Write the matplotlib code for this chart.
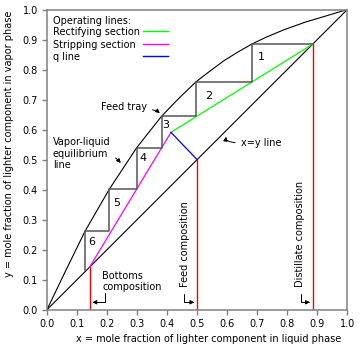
import matplotlib
matplotlib.use("Agg")
import matplotlib.pyplot as plt

# vapor-liquid equilibrium curve
eq_x = [0.0, 0.06, 0.127, 0.208, 0.299, 0.382, 0.44, 0.496, 0.54, 0.59, 0.635, 0.682,
        0.73, 0.79, 0.86, 0.93, 1.0]
eq_y = [0.0, 0.125, 0.262, 0.402, 0.54, 0.645, 0.705, 0.759, 0.793, 0.83, 0.858, 0.885,
        0.908, 0.933, 0.958, 0.979, 1.0]

# compositions
x_bottoms = 0.142
x_feed = 0.5
x_dist = 0.885

# where the operating lines and q line meet
x_meet = 0.413
y_meet = 0.591

# McCabe-Thiele stairs
stair_x = [0.885, 0.682, 0.682, 0.496, 0.496, 0.382, 0.382, 0.299, 0.299, 0.208, 0.208, 0.127, 0.127]
stair_y = [0.885, 0.885, 0.759, 0.759, 0.645, 0.645, 0.54, 0.54, 0.402, 0.402, 0.262, 0.262, 0.133]

# tray numbers and where they sit
tray_labels = ["1", "2", "3", "4", "5", "6"]
tray_x = [0.713, 0.537, 0.397, 0.32, 0.233, 0.15]
tray_y = [0.842, 0.711, 0.616, 0.505, 0.355, 0.225]

legend_title = "Operating lines:"
legend_labels = ["Rectifying section", "Stripping section", "q line"]
legend_colors = ["#00ff00", "#ff00ff", "#0000ff"]

ticks = [0.0, 0.1, 0.2, 0.3, 0.4, 0.5, 0.6, 0.7, 0.8, 0.9, 1.0]

fig = plt.figure(figsize=(3.61, 3.54), dpi=100)
ax = fig.add_axes([0.130, 0.125, 0.832, 0.848])

fs = 7
spine_col = "#808080"

# diagonal and equilibrium curve
ax.plot([0, 1], [0, 1], color="black", lw=0.8)
ax.plot(eq_x, eq_y, color="black", lw=0.8)

# red composition lines
for xc in [x_bottoms, x_feed, x_dist]:
    ax.plot([xc, xc], [0, xc], color="red", lw=1.0)

# operating lines
ax.plot([x_dist, x_meet], [x_dist, y_meet], color=legend_colors[0], lw=0.9)
ax.plot([x_bottoms, x_meet], [x_bottoms, y_meet], color=legend_colors[1], lw=0.9)
ax.plot([x_feed, x_meet], [x_feed, y_meet], color=legend_colors[2], lw=0.9)

# stairs
ax.plot(stair_x, stair_y, color="#555555", lw=1.1)

for lab, tx, ty in zip(tray_labels, tray_x, tray_y):
    ax.text(tx, ty, lab, fontsize=8, ha="center", va="center")

arrow = dict(arrowstyle="-|>", color="black", lw=0.7, mutation_scale=6)

ax.annotate("Feed tray", xy=(0.382, 0.648), xytext=(0.18, 0.675),
            fontsize=fs, ha="left", va="center",
            arrowprops=dict(arrow, connectionstyle="angle3,angleA=0,angleB=-60"))
ax.annotate("Vapor-liquid\nequilibrium\nline", xy=(0.252, 0.482), xytext=(0.02, 0.52),
            fontsize=fs, ha="left", va="center", linespacing=1.15,
            arrowprops=dict(arrow, connectionstyle="angle3,angleA=0,angleB=-50",
                            relpos=(0.92, 0.5)))
ax.annotate("x=y line", xy=(0.6, 0.585), xytext=(0.645, 0.556),
            fontsize=fs, ha="left", va="center",
            arrowprops=dict(arrow, connectionstyle="angle3,angleA=0,angleB=60",
                            relpos=(0.0, 0.5)))

# bracket arrows to the compositions
ax.text(0.185, 0.13, "Bottoms\ncomposition", fontsize=fs, ha="left", va="top", linespacing=1.15)
ax.annotate("", xy=(x_bottoms, 0.025), xytext=(0.193, 0.065),
            arrowprops=dict(arrow, connectionstyle="angle,angleA=-90,angleB=0,rad=0"))
ax.text(0.46, 0.075, "Feed composition", fontsize=fs, rotation=90, ha="center", va="bottom")
ax.annotate("", xy=(x_feed, 0.025), xytext=(0.458, 0.062),
            arrowprops=dict(arrow, connectionstyle="angle,angleA=-90,angleB=0,rad=0"))
ax.text(0.843, 0.075, "Distillate composition", fontsize=fs, rotation=90, ha="center", va="bottom")
ax.annotate("", xy=(x_dist, 0.025), xytext=(0.847, 0.062),
            arrowprops=dict(arrow, connectionstyle="angle,angleA=-90,angleB=0,rad=0"))

# legend drawn by hand: text on the left, sample line on the right
ax.text(0.02, 0.963, legend_title, transform=ax.transAxes, fontsize=fs, ha="left", va="center")
row_y = [0.925, 0.883, 0.842]
for lab, col, ry in zip(legend_labels, legend_colors, row_y):
    ax.text(0.02, ry, lab, transform=ax.transAxes, fontsize=fs, ha="left", va="center")
    ax.plot([0.319, 0.402], [ry + 0.003, ry + 0.003], transform=ax.transAxes, color=col, lw=1.0)

ax.set_xlim(0, 1)
ax.set_ylim(0, 1)
ax.set_xticks(ticks)
ax.set_yticks(ticks)
ax.set_xticklabels([f"{t:.1f}" for t in ticks])
ax.set_yticklabels([f"{t:.1f}" for t in ticks])
ax.tick_params(labelsize=fs, length=3.5, width=1.0, color=spine_col, pad=3)
for s in ax.spines.values():
    s.set_color(spine_col)
    s.set_linewidth(1.1)

ax.set_xlabel("x = mole fraction of lighter component in liquid phase", fontsize=fs)
ax.set_ylabel("y = mole fraction of lighter component in vapor phase", fontsize=fs)
ax.xaxis.set_label_coords(0.537, -0.082)
ax.yaxis.set_label_coords(-0.11, 0.552)

fig.savefig("out.png", dpi=100)
